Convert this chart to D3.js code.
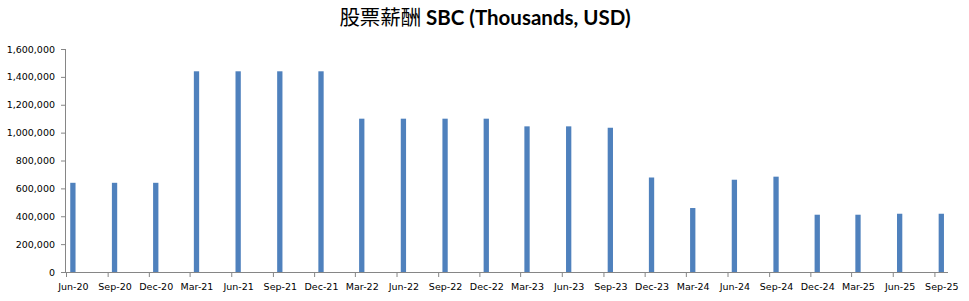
<!DOCTYPE html>
<html>
<head>
<meta charset="utf-8">
<script src="https://cdn.jsdelivr.net/npm/d3@7"></script>
<style>
  body { margin: 0; background: #fff; }
  svg { display: block; }
</style>
</head>
<body>
<div id="chart"></div>
<script>
// quarterly SBC, thousands USD
const quarters = ['Jun-20', 'Sep-20', 'Dec-20', 'Mar-21', 'Jun-21', 'Sep-21', 'Dec-21',
  'Mar-22', 'Jun-22', 'Sep-22', 'Dec-22', 'Mar-23', 'Jun-23', 'Sep-23', 'Dec-23',
  'Mar-24', 'Jun-24', 'Sep-24', 'Dec-24', 'Mar-25', 'Jun-25', 'Sep-25'];
const sbcValues = [640000, 640000, 640000, 1440000, 1440000, 1440000, 1440000,
  1100000, 1100000, 1100000, 1100000, 1045000, 1045000, 1035000, 678000,
  459000, 662000, 684000, 411000, 411000, 418000, 418000];
const yTicks = [0, 200000, 400000, 600000, 800000, 1000000, 1200000, 1400000, 1600000];

const width = 969, height = 301;
const margin = { top: 49, right: 21, bottom: 29, left: 66 };
const parse = d3.timeParse('%b-%y');

const data = quarters.map((q, i) => ({ label: q, date: parse(q), value: sbcValues[i] }));

const svg = d3.select('#chart').append('svg')
  .attr('width', width)
  .attr('height', height);

// month based date axis, like the spreadsheet one
const start = data[0].date;
const end = d3.timeMonth.offset(data[data.length - 1].date, 1);
const x = d3.scaleTime()
  .domain([start, end])
  .range([margin.left, width - margin.right]);
const slot = (x.range()[1] - x.range()[0]) / d3.timeMonth.count(start, end);
const barWidth = 5.3;

const y = d3.scaleLinear()
  .domain([0, 1600000])
  .range([height - margin.bottom, margin.top]);

const axisColor = '#868686';
const tickFont = '"DejaVu Sans", Verdana, sans-serif';

svg.append('g')
  .selectAll('rect')
  .data(data)
  .join('rect')
  .attr('x', d => x(d.date) + slot / 2 - barWidth / 2)
  .attr('y', d => y(d.value))
  .attr('width', barWidth)
  .attr('height', d => y(0) - y(d.value))
  .attr('fill', '#4F81BD');

svg.append('g')
  .attr('transform', `translate(${margin.left},0)`)
  .call(d3.axisLeft(y).tickValues(yTicks).tickFormat(d3.format(',')).tickSize(5).tickPadding(6))
  .call(g => {
    g.select('.domain').attr('stroke', axisColor).attr('d', `M-0.5,${y(0)}V${y(1600000)}`);
    g.selectAll('.tick line').attr('stroke', axisColor);
    g.selectAll('.tick text')
      .attr('fill', '#000')
      .attr('font-family', tickFont)
      .attr('font-size', '9.5px');
  });

svg.append('g')
  .attr('transform', `translate(0,${y(0)})`)
  .call(d3.axisBottom(x).tickValues(data.map(d => d.date)).tickFormat(d3.timeFormat('%b-%y')).tickSize(5).tickSizeOuter(0).tickPadding(6))
  .call(g => {
    g.select('.domain').attr('stroke', axisColor).attr('d', `M${margin.left},0.5H${width - margin.right}`);
    g.selectAll('.tick line').attr('stroke', axisColor);
    g.selectAll('.tick text')
      .attr('x', slot / 2)
      .attr('fill', '#000')
      .attr('font-family', tickFont)
      .attr('font-size', '9.5px');
  });

svg.append('text')
  .attr('x', 485)
  .attr('y', 25)
  .attr('text-anchor', 'middle')
  .attr('font-family', 'Lato, "Noto Sans CJK TC", sans-serif')
  .attr('font-size', '20.5px')
  .attr('font-weight', 'bold')
  .attr('fill', '#000')
  .call(t => {
    t.append('tspan').attr('font-family', '"Noto Sans CJK TC", sans-serif').attr('font-weight', 'normal').text('股票薪酬 ');
    t.append('tspan').text('SBC (Thousands, USD)');
  });
</script>
</body>
</html>
